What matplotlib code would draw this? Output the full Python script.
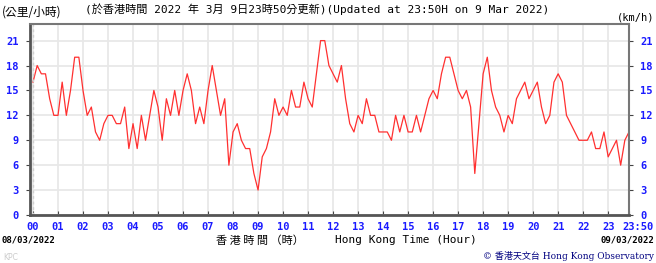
import numpy as np
import matplotlib
matplotlib.use('Agg')
import matplotlib.pyplot as plt
from matplotlib.transforms import ScaledTranslation

# wind speed (km/h), 10-minute readings from 00:00 to 23:50 HKT, 09/03/2022
speed = [
    16, 18, 17, 17, 14, 12,   # 00
    12, 16, 12, 15, 19, 19,   # 01
    15, 12, 13, 10, 9, 11,    # 02
    12, 12, 11, 11, 13, 8,    # 03
    11, 8, 12, 9, 12, 15,     # 04
    13, 9, 14, 12, 15, 12,    # 05
    15, 17, 15, 11, 13, 11,   # 06
    15, 18, 15, 12, 14, 6,    # 07
    10, 11, 9, 8, 8, 5,       # 08
    3, 7, 8, 10, 14, 12,      # 09
    13, 12, 15, 13, 13, 16,   # 10
    14, 13, 17, 21, 21, 18,   # 11
    17, 16, 18, 14, 11, 10,   # 12
    12, 11, 14, 12, 12, 10,   # 13
    10, 10, 9, 12, 10, 12,    # 14
    10, 10, 12, 10, 12, 14,   # 15
    15, 14, 17, 19, 19, 17,   # 16
    15, 14, 15, 13, 5, 11,    # 17
    17, 19, 15, 13, 12, 10,   # 18
    12, 11, 14, 15, 16, 14,   # 19
    15, 16, 13, 11, 12, 16,   # 20
    17, 16, 12, 11, 10, 9,    # 21
    9, 9, 10, 8, 8, 10,       # 22
    7, 8, 9, 6, 9, 10,        # 23
]
hours = np.arange(len(speed)) / 6.0

x_ticks = list(range(24)) + [23 + 50 / 60]
x_labels = ['%02d' % h for h in range(24)] + ['23:50']
y_ticks = [0, 3, 6, 9, 12, 15, 18, 21]

blue = '#1a1aff'
mono = ['DejaVu Sans Mono', 'Noto Sans CJK TC']
cjk = ['Noto Sans CJK TC', 'DejaVu Sans']

fig = plt.figure(figsize=(6.56, 2.63), dpi=100)
ax = fig.add_axes([30 / 656, 48 / 263, 599 / 656, 191 / 263])

ax.plot(hours, speed, color='#ff3030', lw=0.9)

ax.set_xlim(-0.12, 23 + 50 / 60)
ax.set_ylim(0, 23)
ax.set_xticks(x_ticks)
ax.set_xticklabels(x_labels)
ax.set_yticks(y_ticks)

ax.grid(True, color='#e8e8e8', lw=1.3)
ax.axvline(0, color='#d0d0d0', lw=1.0, ls=(0, (2, 2)))
ax.set_axisbelow(True)

for side in ['left', 'bottom']:
    ax.spines[side].set_color('#555555')
    ax.spines[side].set_linewidth(2)
for side in ['top', 'right']:
    ax.spines[side].set_color('#777777')
    ax.spines[side].set_linewidth(1.5)

ax.tick_params(axis='x', direction='in', length=3, color='#444444',
               labelsize=7.5, labelcolor=blue, pad=5)
ax.tick_params(axis='y', direction='out', length=3, color='#444444',
               labelsize=7.5, labelcolor=blue, right=True, labelright=True,
               pad=5)
for lab in ax.get_xticklabels() + ax.get_yticklabels():
    lab.set_fontfamily('DejaVu Sans Mono')
    lab.set_fontweight('bold')

# last label (23:50) sits to the right of its tick
last = ax.get_xticklabels()[-1]
last.set_horizontalalignment('left')
last.set_transform(last.get_transform() +
                   ScaledTranslation(-7 / 100, 0, fig.dpi_scale_trans))

# texts around the plot
fig.text(2 / 656, 1 - 12 / 263, '(公里/小時)', family=cjk, fontsize=8.5,
         va='center', ha='left')
fig.text(85 / 656, 1 - 9 / 263,
         '(於香港時間 2022 年 3月 9日23時50分更新)(Updated at 23:50H on 9 Mar 2022)',
         family=mono, fontsize=8, va='center', ha='left')
fig.text(654 / 656, 1 - 17 / 263, '(km/h)', family=mono, fontsize=7.5,
         va='center', ha='right')
fig.text(2 / 656, 1 - 240 / 263, '08/03/2022', family='DejaVu Sans Mono',
         fontsize=6.5, fontweight='bold', va='center', ha='left')
fig.text(654 / 656, 1 - 240 / 263, '09/03/2022', family='DejaVu Sans Mono',
         fontsize=6.5, fontweight='bold', va='center', ha='right')
fig.text(216 / 656, 1 - 241 / 263, '香 港 時 間 （時）', family=cjk,
         fontsize=8, va='center', ha='left')
fig.text(335 / 656, 1 - 240 / 263, 'Hong Kong Time (Hour)', family=mono,
         fontsize=8, va='center', ha='left')
fig.text(3 / 656, 1 - 258 / 263, 'KPC', family='DejaVu Sans', fontsize=5.5,
         color='#cccccc', va='center', ha='left')
fig.text(654 / 656, 1 - 256 / 263, '© 香港天文台 Hong Kong Observatory',
         family=['DejaVu Serif', 'Noto Sans CJK TC'], fontsize=6.5,
         color='#000080', va='center', ha='right')

fig.savefig('out.png', dpi=100, facecolor='white')
